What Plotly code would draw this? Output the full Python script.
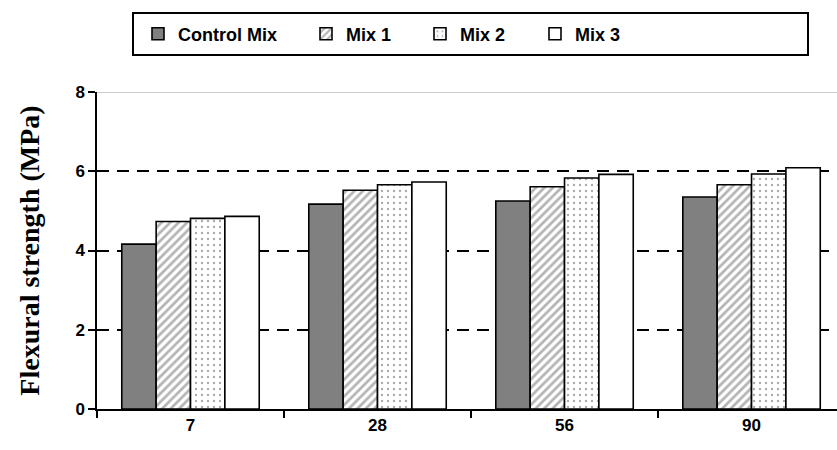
import plotly.graph_objects as go

ages = ["7", "28", "56", "90"]
control_mix = [4.16, 5.17, 5.25, 5.35]
mix_1 = [4.73, 5.52, 5.61, 5.66]
mix_2 = [4.81, 5.66, 5.83, 5.93]
mix_3 = [4.86, 5.73, 5.92, 6.09]
y_ticks = [0, 2, 4, 6, 8]

L, R, T, B = 97, 0, 92, 41
W, H = 837, 450
pw = W - L - R
ph = H - T - B

def px_x(p):
    return (p - L) / pw

def px_y(p):
    return (H - B - p) / ph

line = dict(color="black", width=1.6)
series = [
    ("Control Mix", control_mix, dict(color="#808080", line=line), "legend"),
    ("Mix 1", mix_1, dict(color="white", line=line,
                          pattern=dict(shape="/", fgcolor="#6a6a6a", bgcolor="white", size=6, solidity=0.45)), "legend2"),
    ("Mix 2", mix_2, dict(color="white", line=line,
                          pattern=dict(shape=".", fgcolor="#555555", bgcolor="white", size=6, solidity=0.12)), "legend3"),
    ("Mix 3", mix_3, dict(color="white", line=line), "legend4"),
]

fig = go.Figure()
for name, vals, marker, lg in series:
    fig.add_trace(go.Bar(x=ages, y=vals, name=name, marker=marker, legend=lg))

legend_font = dict(family="Liberation Sans", size=18, color="black", weight="bold")
sq_centers = [161, 329, 443, 558]
legs = {}
for i, c in enumerate(sq_centers):
    key = "legend" if i == 0 else f"legend{i+1}"
    legs[key] = dict(x=px_x(c - 23), xanchor="left", y=px_y(34), yanchor="middle",
                     orientation="h", font=legend_font, bgcolor="rgba(0,0,0,0)",
                     borderwidth=0, itemwidth=30)

fig.update_layout(
    width=W, height=H,
    margin=dict(l=L, r=R, t=T, b=B),
    paper_bgcolor="white", plot_bgcolor="white",
    barmode="group", bargap=0.265, bargroupgap=0,
    font=dict(family="Liberation Sans", color="black"),
    showlegend=True,
    **legs,
    xaxis=dict(
        type="category", range=[-0.5, 3.457],
        showline=True, linecolor="black", linewidth=1.5,
        ticks="outside", tickson="boundaries", ticklen=7, tickwidth=1.5, tickcolor="black",
        tickfont=dict(family="Liberation Sans", size=17, color="black", weight="bold"),
        showgrid=False,
    ),
    yaxis=dict(
        range=[0, 8], tickvals=y_ticks,
        showline=True, linecolor="black", linewidth=1.5,
        ticks="outside", ticklen=7, tickwidth=1.5, tickcolor="black",
        tickfont=dict(family="Liberation Sans", size=17, color="black", weight="bold"),
        showgrid=True, gridcolor="black", griddash="12px,8px", gridwidth=1.5,
        zeroline=False,
        title=dict(text="Flexural strength (MPa)", standoff=28,
                   font=dict(family="Liberation Serif", size=28, color="black", weight="bold")),
    ),
    shapes=[
        dict(type="rect", xref="paper", yref="paper",
             x0=px_x(133), x1=px_x(808), y0=px_y(55), y1=px_y(13),
             line=dict(color="black", width=2), fillcolor="rgba(0,0,0,0)", layer="below"),
        dict(type="line", xref="paper", yref="y", x0=0, x1=1, y0=8, y1=8,
             line=dict(color="#999999", width=1.2)),
    ],
)

fig.write_html("out.html")
